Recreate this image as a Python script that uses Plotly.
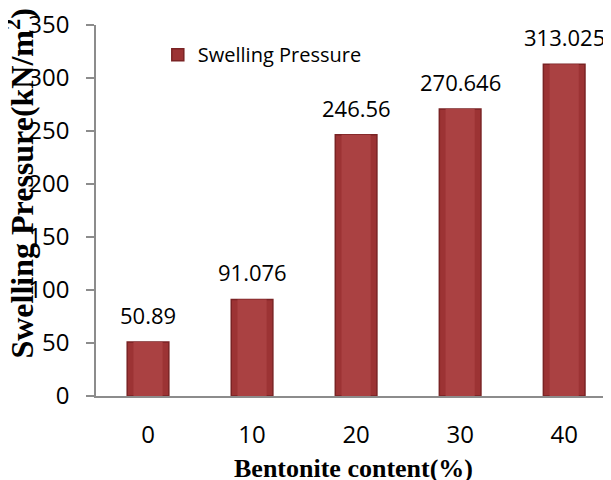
import plotly.graph_objects as go

# Chart data
bentonite = ["0", "10", "20", "30", "40"]
swelling_pressure = [50.89, 91.076, 246.56, 270.646, 313.025]
y_ticks = [0, 50, 100, 150, 200, 250, 300, 350]

TICK_FONT = dict(family="Open Sans", size=24, color="#000000")
LABEL_FONT = dict(family="Open Sans", size=22, color="#000000")

fig = go.Figure()
fig.add_trace(
    go.Bar(
        x=bentonite,
        y=swelling_pressure,
        name="Swelling Pressure",
        width=0.4,
        marker=dict(color="#9C3334", line=dict(color="#7A2324", width=1.5)),
    )
)
# lighter core of the bars to hint at the rounded look of the original
fig.add_trace(
    go.Bar(
        x=bentonite,
        y=swelling_pressure,
        width=0.28,
        showlegend=False,
        hoverinfo="skip",
        marker=dict(color="#AA4142", line=dict(width=0)),
    )
)

# value labels above the bars
for i, val in enumerate(swelling_pressure):
    fig.add_annotation(
        x=i,
        y=val,
        text=str(val),
        showarrow=False,
        yanchor="bottom",
        yshift=10,
        font=LABEL_FONT,
    )

# axis titles as annotations so they can sit where the original has them
fig.add_annotation(
    xref="paper",
    yref="paper",
    x=-0.148,
    y=0.572,
    text="<b>Swelling Pressure(kN/m<sup>2</sup>)</b>",
    textangle=-90,
    showarrow=False,
    xanchor="center",
    yanchor="middle",
    font=dict(family="Liberation Serif", size=32, color="#000000"),
)
fig.add_annotation(
    xref="paper",
    yref="paper",
    x=0.5,
    y=-0.196,
    text="<b>Bentonite content(%)</b>",
    showarrow=False,
    xanchor="center",
    yanchor="middle",
    font=dict(family="Liberation Serif", size=26, color="#000000"),
)

fig.update_xaxes(
    type="category",
    range=[-0.5, 4.45],
    automargin=False,
    showline=True,
    linecolor="#8C8C8C",
    linewidth=1.5,
    ticks="",
    tickfont=TICK_FONT,
    ticklabelstandoff=16,
    showgrid=False,
    zeroline=False,
)
fig.update_yaxes(
    range=[0, 350],
    tickvals=y_ticks,
    automargin=False,
    ticklabeloverflow="allow",
    showline=True,
    linecolor="#8C8C8C",
    linewidth=1.5,
    ticks="outside",
    ticklen=8,
    tickcolor="#8C8C8C",
    tickwidth=1.5,
    tickfont=TICK_FONT,
    ticklabelstandoff=12,
    showgrid=False,
    zeroline=False,
)
# the page puts the figure 8px in from the top-left corner, so the
# figure is 8px smaller and the margins are shifted to compensate
fig.update_layout(
    width=603,
    height=472,
    margin=dict(l=88, r=0, t=17, b=84),
    plot_bgcolor="white",
    paper_bgcolor="white",
    barmode="overlay",
    showlegend=True,
    legend=dict(
        x=0.12,
        y=0.92,
        xanchor="left",
        yanchor="middle",
        bgcolor="rgba(0,0,0,0)",
        font=dict(family="Open Sans", size=20, color="#000000"),
    ),
)

fig.write_html("out.html")
